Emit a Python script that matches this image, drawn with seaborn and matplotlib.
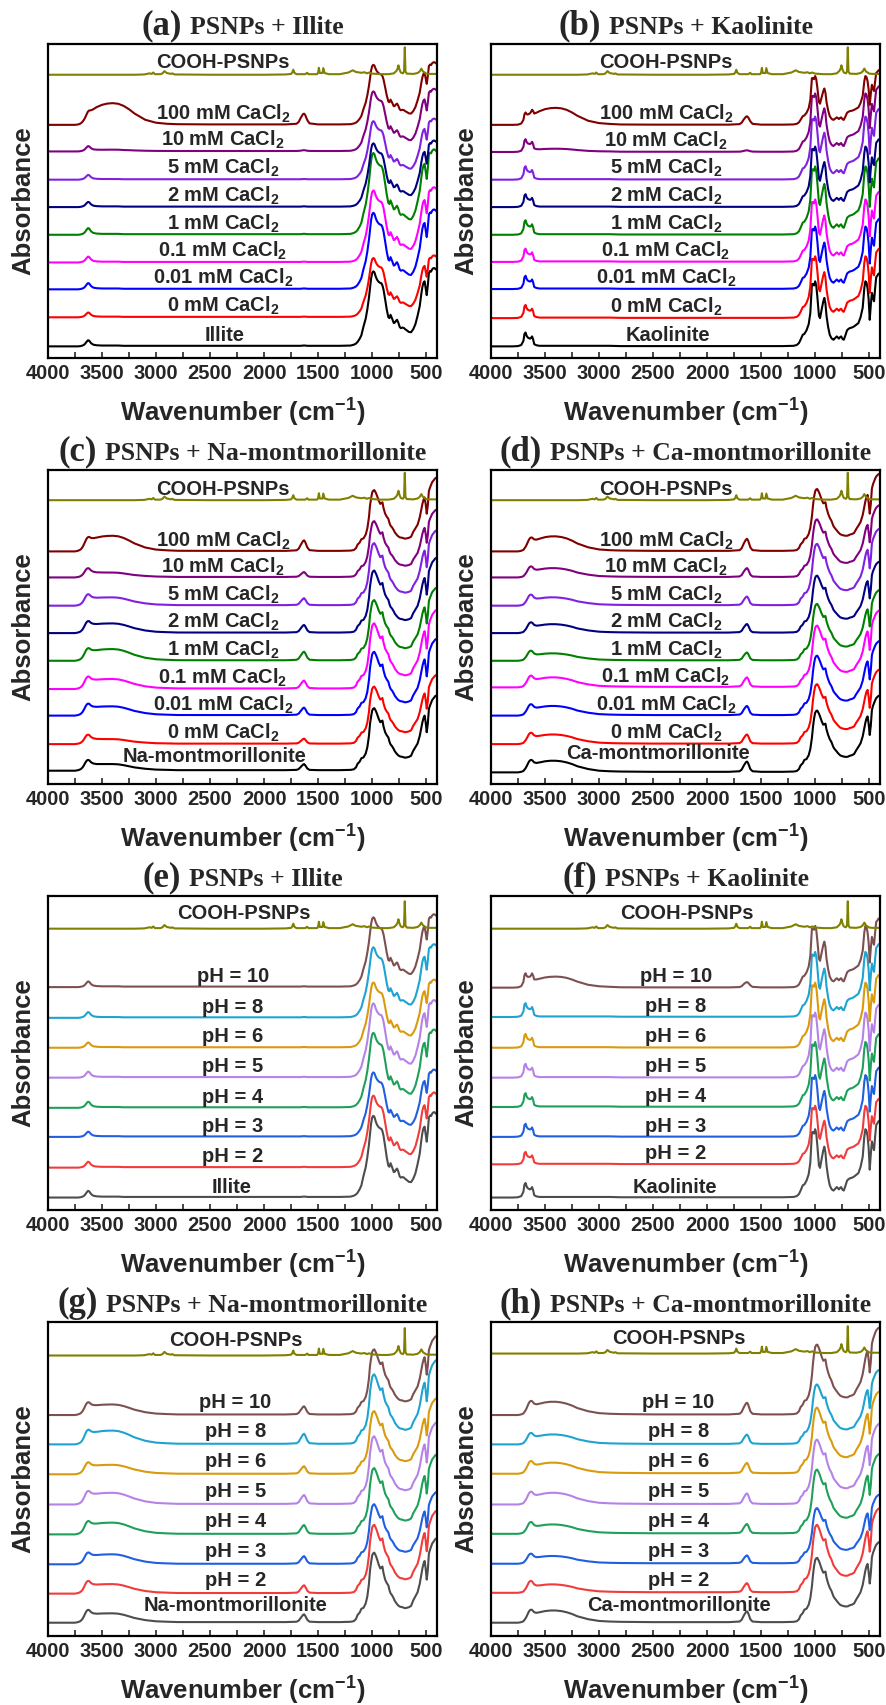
import numpy as np
import pandas as pd
import matplotlib
matplotlib.use("Agg")
import matplotlib.pyplot as plt
import seaborn as sns
from matplotlib.offsetbox import TextArea, HPacker, AnchoredOffsetbox
from matplotlib.ticker import MultipleLocator

sns.set_style("ticks")
plt.rcParams["font.family"] = ["Liberation Sans", "DejaVu Sans"]
plt.rcParams["font.weight"] = "bold"
plt.rcParams["axes.labelweight"] = "bold"
plt.rcParams["mathtext.fontset"] = "custom"
plt.rcParams["mathtext.rm"] = "Liberation Sans:bold"
plt.rcParams["mathtext.it"] = "Liberation Sans:bold"
plt.rcParams["mathtext.bf"] = "Liberation Sans:bold"
plt.rcParams["mathtext.default"] = "rm"

# ---------------------------------------------------------------- spectra
# common wavenumber grid (cm-1) for the clay spectra and the water band
WAVENUMBER = [
    4000, 3900, 3800, 3750, 3720, 3700, 3690, 3680, 3670, 3660,
    3650, 3640, 3630, 3620, 3610, 3600, 3580, 3550, 3500, 3450,
    3400, 3350, 3300, 3250, 3200, 3100, 3000, 2900, 2800, 2500,
    2200, 2000, 1800, 1700, 1680, 1660, 1640, 1630, 1620, 1600,
    1580, 1500, 1300, 1200, 1170, 1150, 1135, 1115, 1100, 1080,
    1060, 1045, 1030, 1020, 1010, 1000, 990, 980, 965, 955,
    940, 925, 915, 905, 895, 880, 865, 850, 840, 830,
    815, 800, 790, 780, 770, 760, 745, 735, 720, 705,
    695, 680, 660, 640, 620, 600, 580, 560, 545, 535,
    525, 515, 505, 495, 485, 475, 465, 455, 445, 435,
    425, 415, 400,
]

ILLITE = [
    0, 0, 0, 0, 0, 0.01, 0.02, 0.03, 0.05, 0.08,
    0.13, 0.18, 0.22, 0.21, 0.16, 0.11, 0.06, 0.04, 0.03, 0.03,
    0.03, 0.03, 0.02, 0.02, 0.02, 0.02, 0.02, 0.02, 0.02, 0.02,
    0.02, 0.02, 0.02, 0.02, 0.02, 0.02, 0.03, 0.03, 0.03, 0.02,
    0.02, 0.02, 0.02, 0.03, 0.06, 0.10, 0.16, 0.28, 0.40, 0.72,
    1.00, 1.33, 1.75, 2.10, 2.45, 2.65, 2.71, 2.68, 2.50, 2.41,
    2.33, 2.29, 2.28, 2.20, 2.05, 1.70, 1.33, 1.05, 1.02, 1.14,
    1.00, 0.84, 0.86, 0.92, 0.96, 0.88, 0.70, 0.66, 0.68, 0.66,
    0.62, 0.58, 0.52, 0.51, 0.62, 0.80, 1.10, 1.45, 1.90, 2.15,
    2.30, 2.35, 2.10, 1.85, 2.20, 2.65, 2.72, 2.70, 2.78, 2.82,
    2.83, 2.80, 2.75,
]

KAOLINITE = [
    0, 0, 0, 0.01, 0.05, 0.20, 0.45, 0.50, 0.38, 0.32,
    0.30, 0.28, 0.30, 0.36, 0.25, 0.08, 0.04, 0.02, 0.02, 0.02,
    0.02, 0.02, 0.02, 0.02, 0.02, 0.02, 0.02, 0.02, 0.01, 0.01,
    0.01, 0.01, 0.01, 0.01, 0.01, 0.01, 0.01, 0.01, 0.01, 0.01,
    0.01, 0.01, 0.01, 0.02, 0.05, 0.12, 0.24, 0.42, 0.45, 0.58,
    0.80, 1.20, 2.25, 2.25, 2.20, 2.35, 2.20, 1.80, 1.10, 1.02,
    1.33, 1.62, 1.75, 1.55, 1.10, 0.70, 0.42, 0.30, 0.26, 0.24,
    0.30, 0.36, 0.32, 0.28, 0.33, 0.36, 0.26, 0.24, 0.40, 0.58,
    0.62, 0.66, 0.68, 0.72, 0.78, 0.84, 1.05, 1.40, 2.11, 2.35,
    2.30, 2.10, 1.70, 0.96, 1.50, 1.93, 1.75, 1.63, 2.10, 2.50,
    2.55, 2.62, 2.65,
]

NA_MONT = [
    0, 0, 0, 0, 0.02, 0.05, 0.08, 0.12, 0.18, 0.25,
    0.32, 0.37, 0.39, 0.38, 0.34, 0.30, 0.26, 0.24, 0.24, 0.24,
    0.24, 0.23, 0.20, 0.16, 0.12, 0.07, 0.04, 0.03, 0.02, 0.02,
    0.02, 0.02, 0.02, 0.03, 0.06, 0.14, 0.22, 0.24, 0.20, 0.08,
    0.03, 0.02, 0.02, 0.03, 0.05, 0.12, 0.25, 0.33, 0.45, 0.48,
    0.62, 0.84, 1.25, 1.69, 1.95, 2.17, 2.24, 2.26, 2.15, 2.05,
    1.88, 1.75, 1.78, 1.81, 1.60, 1.39, 1.28, 1.20, 1.05, 0.95,
    0.88, 0.78, 0.70, 0.65, 0.60, 0.56, 0.52, 0.51, 0.50, 0.48,
    0.47, 0.48, 0.50, 0.54, 0.72, 0.85, 0.98, 1.25, 1.55, 1.75,
    1.90, 1.99, 1.75, 1.39, 1.70, 2.23, 2.35, 2.45, 2.55, 2.60,
    2.65, 2.70, 2.72,
]

CA_MONT = [
    0, 0, 0, 0, 0.02, 0.05, 0.10, 0.15, 0.22, 0.30,
    0.38, 0.43, 0.45, 0.44, 0.40, 0.36, 0.34, 0.36, 0.40, 0.42,
    0.42, 0.40, 0.36, 0.30, 0.22, 0.12, 0.06, 0.04, 0.03, 0.02,
    0.02, 0.02, 0.02, 0.04, 0.10, 0.25, 0.37, 0.39, 0.33, 0.12,
    0.04, 0.02, 0.02, 0.03, 0.05, 0.12, 0.25, 0.33, 0.45, 0.48,
    0.62, 0.84, 1.25, 1.65, 1.95, 2.15, 2.22, 2.23, 2.12, 2.02,
    1.85, 1.72, 1.74, 1.76, 1.55, 1.35, 1.20, 1.10, 1.00, 0.90,
    0.82, 0.75, 0.70, 0.66, 0.62, 0.60, 0.58, 0.57, 0.56, 0.56,
    0.57, 0.60, 0.62, 0.66, 0.80, 0.92, 1.05, 1.30, 1.60, 1.80,
    1.95, 2.02, 1.75, 1.35, 1.70, 2.25, 2.40, 2.50, 2.60, 2.68,
    2.72, 2.76, 2.78,
]

# adsorbed-water contribution (O-H stretch ~3400, H-O-H bend ~1630)
WATER_BAND = [
    0, 0, 0, 0, 0.02, 0.05, 0.08, 0.12, 0.17, 0.22,
    0.28, 0.34, 0.40, 0.46, 0.52, 0.58, 0.68, 0.80, 0.92, 0.98,
    1.00, 0.97, 0.88, 0.72, 0.52, 0.22, 0.08, 0.03, 0.01, 0,
    0, 0, 0, 0.03, 0.12, 0.32, 0.48, 0.50, 0.44, 0.20,
    0.05, 0, 0, 0, 0, 0, 0, 0, 0, 0,
    0, 0, 0, 0, 0, 0, 0, 0, 0, 0,
    0, 0, 0, 0, 0, 0, 0, 0, 0, 0,
    0, 0, 0, 0, 0, 0, 0, 0, 0, 0,
    0, 0, 0, 0, 0, 0, 0, 0, 0, 0,
    0, 0, 0, 0, 0, 0, 0, 0, 0, 0,
    0, 0, 0,
]

# carboxylated polystyrene nanoplastics reference spectrum
PS_WAVENUMBER = [
    4000, 3200, 3110, 3085, 3060, 3040, 3026, 3010, 2960, 2940,
    2923, 2900, 2860, 2849, 2830, 2500, 2000, 1800, 1750, 1740,
    1730, 1720, 1700, 1620, 1601, 1590, 1510, 1500, 1493, 1485,
    1460, 1452, 1440, 1400, 1300, 1220, 1180, 1150, 1100, 1070,
    1050, 1028, 1000, 960, 920, 850, 800, 775, 765, 757,
    748, 735, 715, 705, 698, 692, 680, 620, 580, 560,
    545, 530, 500, 470, 440, 400,
]
COOH_PSNPS = [
    0, 0, 0.01, 0.03, 0.05, 0.03, 0.08, 0.02, 0.02, 0.05,
    0.13, 0.06, 0.03, 0.05, 0.01, 0, 0, 0.01, 0.03, 0.08,
    0.18, 0.07, 0.02, 0.02, 0.07, 0.02, 0.02, 0.08, 0.25, 0.06,
    0.06, 0.24, 0.06, 0.02, 0.02, 0.08, 0.16, 0.10, 0.07, 0.09,
    0.05, 0.08, 0.04, 0.03, 0.02, 0.02, 0.05, 0.14, 0.22, 0.34,
    0.20, 0.08, 0.05, 0.12, 0.99, 0.12, 0.04, 0.03, 0.06, 0.12,
    0.22, 0.12, 0.04, 0.03, 0.03, 0.03,
]

# ---------------------------------------------------------------- samples
CACL2_LABELS = ["0 mM CaCl$_2$", "0.01 mM CaCl$_2$", "0.1 mM CaCl$_2$",
                "1 mM CaCl$_2$", "2 mM CaCl$_2$", "5 mM CaCl$_2$",
                "10 mM CaCl$_2$", "100 mM CaCl$_2$"]
CACL2_COLORS = ["#000000", "#FF0000", "#0000FF", "#FF00FF", "#008000",
                "#000080", "#8020E0", "#800080", "#800000"]
PH_LABELS = ["pH = 2", "pH = 3", "pH = 4", "pH = 5", "pH = 6", "pH = 8",
             "pH = 10"]
PH_COLORS = ["#4D4D4D", "#F03C3C", "#1F5FE0", "#1FA05A", "#B583E8",
             "#D99A0E", "#1FA3D1", "#7D5050"]
COOH_COLOR = "#808000"

# per-curve band intensity (relative to pure clay) and extra adsorbed water
SCALE_A = [1.0, 0.79, 1.02, 0.96, 1.09, 0.85, 0.78, 0.80, 0.80]
WATER_A = [0, 0, 0, 0, 0, 0, 0, 0.04, 0.76]
SCALE_B = [1.0, 0.95, 0.96, 0.96, 1.05, 0.93, 0.97, 0.90, 0.75]
WATER_B = [0, 0, 0, 0, 0, 0, 0, 0.10, 0.60]
SCALE_C = [1.0, 0.92, 1.02, 1.05, 0.97, 1.0, 1.0, 0.90, 0.98]
WATER_C = [0, -0.04, 0.09, 0.11, 0.19, 0.11, 0.06, -0.04, 0.33]
SCALE_D = [1.0, 0.97, 0.97, 1.0, 0.92, 0.93, 1.0, 0.94, 1.01]
WATER_D = [0, -0.06, -0.06, -0.06, -0.12, -0.07, -0.12, -0.06, 0.12]
SCALE_E = [1.09, 0.96, 0.86, 1.0, 0.99, 0.87, 0.94, 0.93]
WATER_E = [0, 0, 0, 0, 0, 0, 0, 0]
SCALE_F = [1.05, 0.90, 0.95, 1.0, 1.0, 1.0, 1.0, 0.95]
WATER_F = [0, 0, 0, 0, 0, 0, 0, 0.38]
SCALE_G = [1.12, 1.10, 0.96, 1.06, 1.09, 1.01, 1.12, 1.05]
WATER_G = [0.07, 0.08, 0.13, 0.17, 0.16, 0.10, 0.23, 0.13]
SCALE_H = [1.05, 1.10, 0.90, 1.04, 1.05, 1.07, 0.97, 1.14]
WATER_H = [0, -0.16, -0.10, -0.10, -0.02, -0.05, -0.05, 0]

# vertical stacking of the curves (bottom to top) and the PS trace
OFFSET_A = [0.42, 1.47, 2.48, 3.45, 4.45, 5.45, 6.44, 7.46, 8.42]
OFFSET_B = [0.42, 1.44, 2.49, 3.47, 4.45, 5.45, 6.44, 7.44, 8.42]
OFFSET_C = [0.48, 1.44, 2.47, 3.43, 4.45, 5.45, 6.44, 7.46, 8.40]
OFFSET_D = [0.42, 1.44, 2.47, 3.49, 4.45, 5.45, 6.44, 7.46, 8.40]
OFFSET_E = [0.45, 1.53, 2.64, 3.69, 4.78, 5.86, 6.94, 8.05]
OFFSET_F = [0.45, 1.65, 2.64, 3.72, 4.78, 5.86, 6.97, 8.03]
OFFSET_G = [0.48, 1.53, 2.59, 3.67, 4.75, 5.84, 6.92, 7.98]
OFFSET_H = [0.48, 1.56, 2.61, 3.69, 4.75, 5.86, 6.92, 7.98]
COOH_OFFSET = [10.23, 10.23, 10.25, 10.25, 10.16, 10.16, 10.13, 10.20]

PANELS = [
    ("(a)", "PSNPs + Illite", "Illite", ILLITE, CACL2_LABELS, CACL2_COLORS,
     SCALE_A, WATER_A, OFFSET_A),
    ("(b)", "PSNPs + Kaolinite", "Kaolinite", KAOLINITE, CACL2_LABELS,
     CACL2_COLORS, SCALE_B, WATER_B, OFFSET_B),
    ("(c)", "PSNPs + Na-montmorillonite", "Na-montmorillonite", NA_MONT,
     CACL2_LABELS, CACL2_COLORS, SCALE_C, WATER_C, OFFSET_C),
    ("(d)", "PSNPs + Ca-montmorillonite", "Ca-montmorillonite", CA_MONT,
     CACL2_LABELS, CACL2_COLORS, SCALE_D, WATER_D, OFFSET_D),
    ("(e)", "PSNPs + Illite", "Illite", ILLITE, PH_LABELS, PH_COLORS,
     SCALE_E, WATER_E, OFFSET_E),
    ("(f)", "PSNPs + Kaolinite", "Kaolinite", KAOLINITE, PH_LABELS,
     PH_COLORS, SCALE_F, WATER_F, OFFSET_F),
    ("(g)", "PSNPs + Na-montmorillonite", "Na-montmorillonite", NA_MONT,
     PH_LABELS, PH_COLORS, SCALE_G, WATER_G, OFFSET_G),
    ("(h)", "PSNPs + Ca-montmorillonite", "Ca-montmorillonite", CA_MONT,
     PH_LABELS, PH_COLORS, SCALE_H, WATER_H, OFFSET_H),
]

# text placement: label centre (cm-1) and lift above each baseline
LABEL_X = [2380, 2380, 2380, 2380, 2290, 2290, 2265, 2265]
COOH_LABEL_X = [2385, 2385, 2385, 2385, 2185, 2185, 2262, 2262]
MINERAL_LABEL_X = [2366, 2366, 2459, 2453, 2297, 2297, 2262, 2262]
SAMPLE_LIFT = [0.2, 0.2, 0.18, 0.18, 0.19, 0.19, 0.26, 0.26]
MINERAL_LIFT = [0.18, 0.18, 0.32, 0.48, 0.18, 0.18, 0.42, 0.42]
COOH_LIFT = [0.26, 0.26, 0.2, 0.2, 0.34, 0.34, 0.34, 0.34]

# ---------------------------------------------------------------- figure
W, H = 887, 1705
fig = plt.figure(figsize=(W / 100, H / 100), dpi=100)
col_left = [48, 491]
row_top = [44, 470, 896, 1322]
ax_w, ax_h = 389, 314
y_top = 11.34

wn_arr = np.array(WAVENUMBER, dtype=float)
water_arr = np.array(WATER_BAND, dtype=float)

for i, (tag, title, mineral, spec, labels, colors, scales, waters,
        offsets) in enumerate(PANELS):
    r, c = divmod(i, 2)
    ax = fig.add_axes([col_left[c] / W, 1 - (row_top[r] + ax_h) / H,
                       ax_w / W, ax_h / H])
    names = [mineral] + labels
    frames = []
    spec_arr = np.array(spec, dtype=float)
    for name, s, w, off in zip(names, scales, waters, offsets):
        frames.append(pd.DataFrame({"wn": wn_arr,
                                    "A": s * spec_arr + w * water_arr + off,
                                    "sample": name}))
    frames.append(pd.DataFrame({"wn": PS_WAVENUMBER,
                                "A": np.array(COOH_PSNPS) + COOH_OFFSET[i],
                                "sample": "COOH-PSNPs"}))
    df = pd.concat(frames, ignore_index=True)
    sns.lineplot(data=df, x="wn", y="A", hue="sample",
                 hue_order=names + ["COOH-PSNPs"],
                 palette=colors + [COOH_COLOR], estimator=None, sort=False,
                 legend=False, linewidth=1.5, ax=ax)

    # curve labels
    fs = 14.5
    ax.text(MINERAL_LABEL_X[i], offsets[0] + MINERAL_LIFT[i], mineral,
            ha="center", va="baseline", fontsize=fs, fontweight="bold")
    for name, off in zip(labels, offsets[1:]):
        ax.text(LABEL_X[i], off + SAMPLE_LIFT[i], name, ha="center",
                va="baseline", fontsize=fs, fontweight="bold")
    ax.text(COOH_LABEL_X[i], COOH_OFFSET[i] + COOH_LIFT[i], "COOH-PSNPs",
            ha="center", va="baseline", fontsize=fs, fontweight="bold")

    ax.set_xlim(4000, 400)
    ax.set_ylim(0, y_top)
    ax.set_yticks([])
    ax.xaxis.set_major_locator(MultipleLocator(500))
    ax.xaxis.set_minor_locator(MultipleLocator(250))
    ax.tick_params(axis="x", which="both", direction="in", length=4,
                   width=1.2, bottom=True, top=False, labelsize=14.5,
                   pad=4)
    for lab in ax.get_xticklabels():
        lab.set_fontweight("bold")
    for sp in ax.spines.values():
        sp.set_linewidth(1.6)
        sp.set_color("black")
    ax.set_xlabel("Wavenumber (cm$^{-1}$)", fontsize=18.5,
                  fontweight="bold", labelpad=10)
    ax.set_ylabel("Absorbance", fontsize=18.5, fontweight="bold",
                  labelpad=9)

    # two-size serif panel heading
    t1 = TextArea(tag, textprops=dict(family="Liberation Serif",
                                      fontweight="bold", fontsize=25))
    t2 = TextArea(title, textprops=dict(family="Liberation Serif",
                                        fontweight="bold", fontsize=18.5))
    box = HPacker(children=[t1, t2], align="baseline", pad=0, sep=6)
    anchored = AnchoredOffsetbox(loc="lower center", child=box, pad=0,
                                 borderpad=0, frameon=False,
                                 bbox_to_anchor=(0.5, 1.0 + 2 / ax_h),
                                 bbox_transform=ax.transAxes)
    ax.add_artist(anchored)

fig.savefig("out.png", dpi=100)
